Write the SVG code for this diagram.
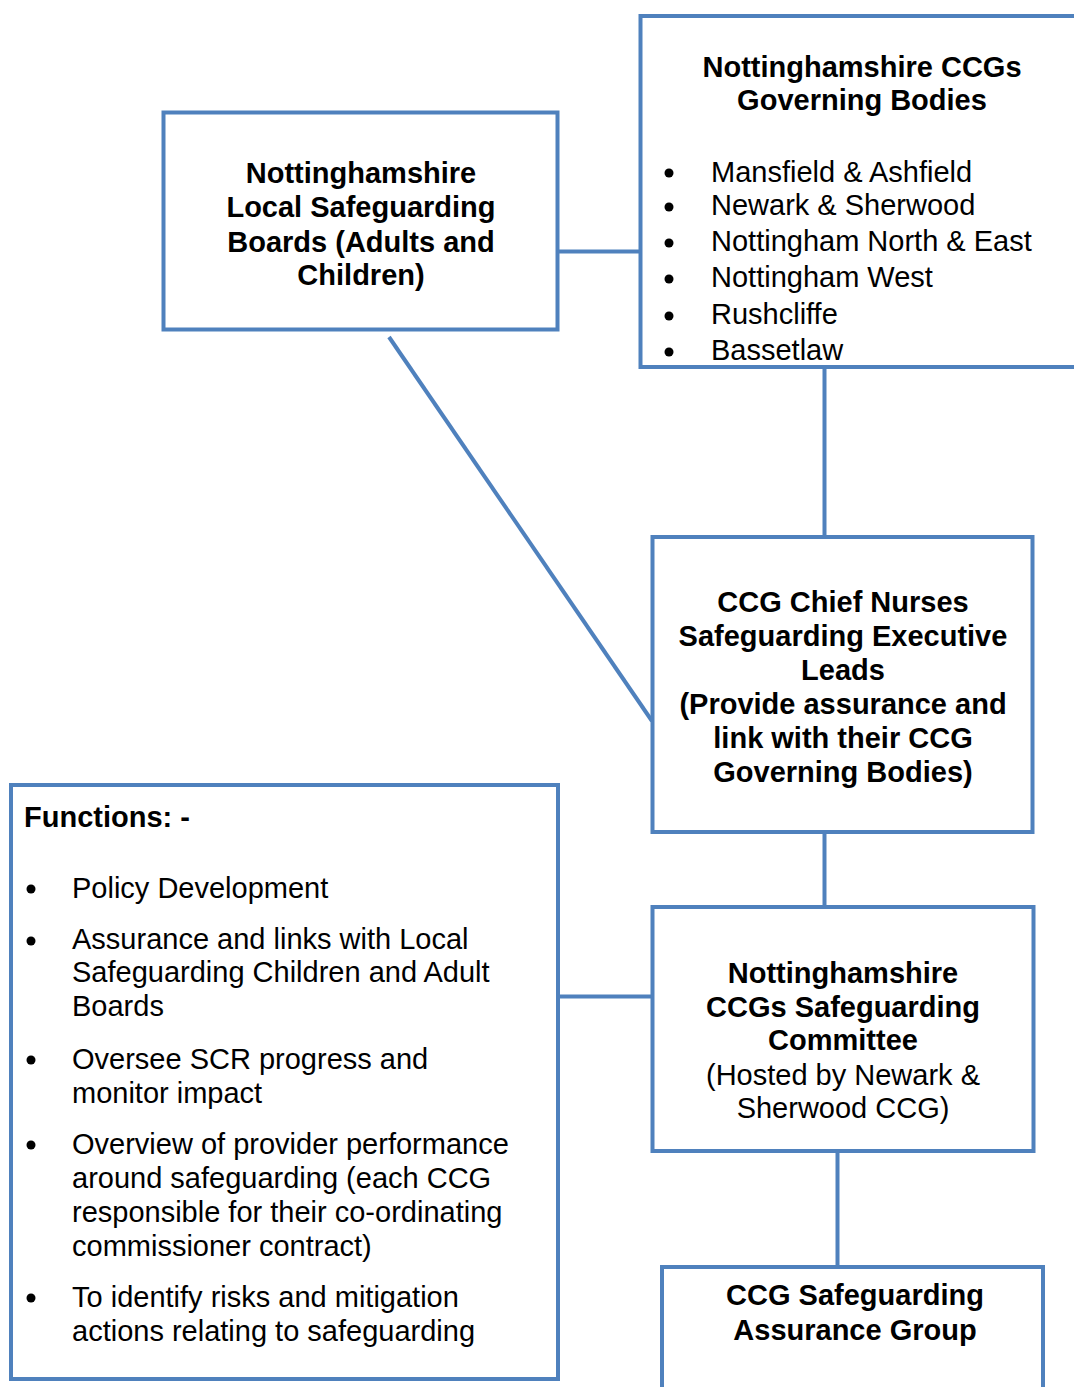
<svg xmlns="http://www.w3.org/2000/svg" width="1074" height="1387" viewBox="0 0 1074 1387">
<style>
.box{fill:#fff;stroke:#4F81BD;stroke-width:4}
.con line{stroke:#4F81BD;stroke-width:4}
text{font-family:"Liberation Sans",Arial,sans-serif;font-size:29px;fill:#000}
.b{font-weight:bold}
.c{text-anchor:middle}
.dot{fill:#000}
</style>
<rect width="1074" height="1387" fill="#fff"/>
<g class="con" id="connectors">
<line x1="557" y1="251.5" x2="642" y2="251.5"/>
<line x1="824.5" y1="366" x2="824.5" y2="538"/>
<line x1="389" y1="337" x2="652" y2="721"/>
<line x1="824.5" y1="830" x2="824.5" y2="908"/>
<line x1="557" y1="996.5" x2="654" y2="996.5"/>
<line x1="837.5" y1="1149" x2="837.5" y2="1268"/>
</g>
<g id="lsb">
<rect class="box" x="163.5" y="112.5" width="394" height="217"/>
<text class="b c" x="361" y="183">Nottinghamshire</text>
<text class="b c" x="361" y="217">Local Safeguarding</text>
<text class="b c" x="361" y="252">Boards (Adults and</text>
<text class="b c" x="361" y="285">Children)</text>
</g>
<g id="governing">
<rect class="box" x="640.5" y="16" width="500" height="351"/>
<text class="b c" x="862" y="77">Nottinghamshire CCGs</text>
<text class="b c" x="862" y="110">Governing Bodies</text>
<circle class="dot" cx="669" cy="173" r="4.5"/>
<circle class="dot" cx="669" cy="207" r="4.5"/>
<circle class="dot" cx="669" cy="243" r="4.5"/>
<circle class="dot" cx="669" cy="279" r="4.5"/>
<circle class="dot" cx="669" cy="316" r="4.5"/>
<circle class="dot" cx="669" cy="352" r="4.5"/>
<text x="711" y="182">Mansfield &amp; Ashfield</text>
<text x="711" y="215">Newark &amp; Sherwood</text>
<text x="711" y="251">Nottingham North &amp; East</text>
<text x="711" y="287">Nottingham West</text>
<text x="711" y="324">Rushcliffe</text>
<text x="711" y="360">Bassetlaw</text>
</g>
<g id="chiefnurses">
<rect class="box" x="652.5" y="537" width="380" height="295"/>
<text class="b c" x="843" y="612">CCG Chief Nurses</text>
<text class="b c" x="843" y="646">Safeguarding Executive</text>
<text class="b c" x="843" y="680">Leads</text>
<text class="b c" x="843" y="714">(Provide assurance and</text>
<text class="b c" x="843" y="748">link with their CCG</text>
<text class="b c" x="843" y="782">Governing Bodies)</text>
</g>
<g id="functions">
<rect class="box" x="11" y="785" width="547" height="594"/>
<text class="b" x="24" y="827">Functions: -</text>
<circle class="dot" cx="31" cy="889" r="4.5"/>
<circle class="dot" cx="31" cy="941" r="4.5"/>
<circle class="dot" cx="31" cy="1060" r="4.5"/>
<circle class="dot" cx="31" cy="1145" r="4.5"/>
<circle class="dot" cx="31" cy="1298" r="4.5"/>
<text x="72" y="898">Policy Development</text>
<text x="72" y="949">Assurance and links with Local</text>
<text x="72" y="982">Safeguarding Children and Adult</text>
<text x="72" y="1016">Boards</text>
<text x="72" y="1069">Oversee SCR progress and</text>
<text x="72" y="1103">monitor impact</text>
<text x="72" y="1154">Overview of provider performance</text>
<text x="72" y="1188">around safeguarding (each CCG</text>
<text x="72" y="1222">responsible for their co-ordinating</text>
<text x="72" y="1256">commissioner contract)</text>
<text x="72" y="1307">To identify risks and mitigation</text>
<text x="72" y="1341">actions relating to safeguarding</text>
</g>
<g id="committee">
<rect class="box" x="652.5" y="907" width="381" height="244"/>
<text class="b c" x="843" y="983">Nottinghamshire</text>
<text class="b c" x="843" y="1017">CCGs Safeguarding</text>
<text class="b c" x="843" y="1050">Committee</text>
<text class="c" x="843" y="1085">(Hosted by Newark &amp;</text>
<text class="c" x="843" y="1118">Sherwood CCG)</text>
</g>
<g id="assurance">
<rect class="box" x="662" y="1267" width="381" height="200"/>
<text class="b c" x="855" y="1305">CCG Safeguarding</text>
<text class="b c" x="855" y="1340">Assurance Group</text>
</g>
</svg>
